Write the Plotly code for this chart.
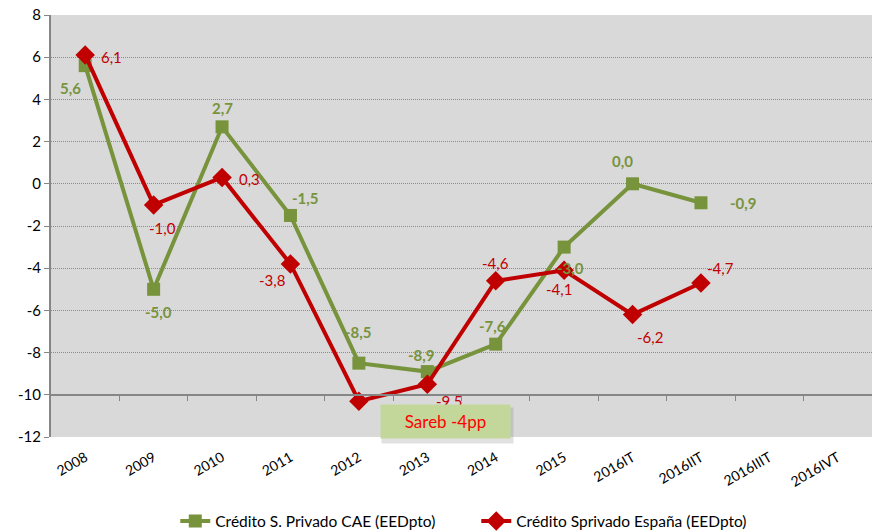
import plotly.graph_objects as go

categories = ["2008", "2009", "2010", "2011", "2012", "2013", "2014", "2015",
              "2016IT", "2016IIT", "2016IIIT", "2016IVT"]
cae_values = [5.6, -5.0, 2.7, -1.5, -8.5, -8.9, -7.6, -3.0, 0.0, -0.9, None, None]
esp_values = [6.1, -1.0, 0.3, -3.8, -10.3, -9.5, -4.6, -4.1, -6.2, -4.7, None, None]
y_ticks = [8, 6, 4, 2, 0, -2, -4, -6, -8, -10, -12]
cae_name = "Crédito S. Privado CAE (EEDpto)"
esp_name = "Crédito Sprivado España (EEDpto)"
note_text = "Sareb -4pp"

# label offsets (pixels) - styling only
cae_shift = [(-15, -22), (5, -23), (0, 19), (15, 17), (0, 31), (-6, 17), (-3, 18),
             (6, -21), (-10, 23), (43, 0), None, None]
esp_shift = [(26, -2), (9, -23), (27, -2), (-18, -16), None, (22, -17), (0, 18),
             (-5, -19), (17, -22), (20, 15), None, None]

GREEN = "#77933C"
RED = "#C00000"
FONT = "Lato, Carlito, Calibri, sans-serif"

def fmt(v):
    return f"{v:.1f}".replace(".", ",")

fig = go.Figure()
fig.add_trace(go.Scatter(
    x=categories, y=cae_values, name=cae_name, mode="lines+markers",
    line=dict(color=GREEN, width=4),
    marker=dict(symbol="square", size=13, color=GREEN),
))
fig.add_trace(go.Scatter(
    x=categories, y=esp_values, name=esp_name, mode="lines+markers",
    line=dict(color=RED, width=4),
    marker=dict(symbol="diamond", size=15, color=RED),
))

annotations = []
for vals, shifts, col, bold in ((cae_values, cae_shift, GREEN, True),
                                 (esp_values, esp_shift, RED, False)):
    for i, (v, s) in enumerate(zip(vals, shifts)):
        if v is None or s is None:
            continue
        txt = fmt(v)
        if bold:
            txt = f"<b>{txt}</b>"
        annotations.append(dict(
            x=i, y=v, xref="x", yref="y", text=txt, showarrow=False,
            xshift=s[0], yshift=s[1],
            font=dict(family=FONT, size=15, color=col),
        ))

# shadow for note box
annotations.append(dict(
    x=5.26, y=-11.27, xref="x", yref="y", text="", showarrow=False,
    width=129, height=33, bgcolor="rgba(120,120,120,0.22)",
    xshift=2, yshift=-4,
))
annotations.append(dict(
    x=5.26, y=-11.27, xref="x", yref="y", text=note_text, showarrow=False,
    width=127, height=31, bgcolor="#C4D79B",
    font=dict(family=FONT, size=17, color="#FF0000"),
))

fig.update_layout(
    width=872, height=531,
    margin=dict(l=51, r=0, t=15, b=94, autoexpand=False),
    paper_bgcolor="white",
    plot_bgcolor="#D9D9D9",
    font=dict(family=FONT, size=14, color="#000000"),
    showlegend=True,
    legend=dict(orientation="h", x=0.518, xanchor="center", y=-0.2, yanchor="middle",
                font=dict(family=FONT, size=15.5, color="#000"), bgcolor="rgba(0,0,0,0)",
                itemwidth=30, entrywidth=256),
    xaxis=dict(
        type="category", categoryorder="array", categoryarray=categories,
        range=[-0.5, 11.5], showgrid=False, showline=False, ticks="",
        tickangle=-30, tickfont=dict(family=FONT, size=14, color="#000"),
        ticklabelstandoff=9, fixedrange=True, automargin=False,
    ),
    xaxis2=dict(
        overlaying="x", anchor="free", position=0.1, range=[-0.5, 11.5],
        tickmode="array", tickvals=[i + 0.5 for i in range(len(categories) - 1)],
        showticklabels=False, ticks="outside", ticklen=5, tickcolor="#868686",
        showline=True, linecolor="#868686", linewidth=2, showgrid=False,
        zeroline=False, automargin=False,
    ),
    yaxis=dict(
        range=[-12, 8], tickmode="array", tickvals=y_ticks,
        ticktext=[str(t) for t in y_ticks],
        showgrid=True, gridcolor="#8C8C8C",
        griddash="1px,1px", gridwidth=1, zeroline=False, showline=True,
        linecolor="#868686", linewidth=2, ticks="outside", ticklen=5,
        tickcolor="#868686", tickfont=dict(family=FONT, size=15, color="#000"),
        automargin=False,
    ),
    annotations=annotations,
)
fig.add_trace(go.Scatter(x=[0], y=[None], xaxis="x2", showlegend=False, hoverinfo="skip"))

fig.write_html("out.html", config={"displayModeBar": False},
               post_script="document.body.style.margin='0';document.body.style.overflow='hidden';")
